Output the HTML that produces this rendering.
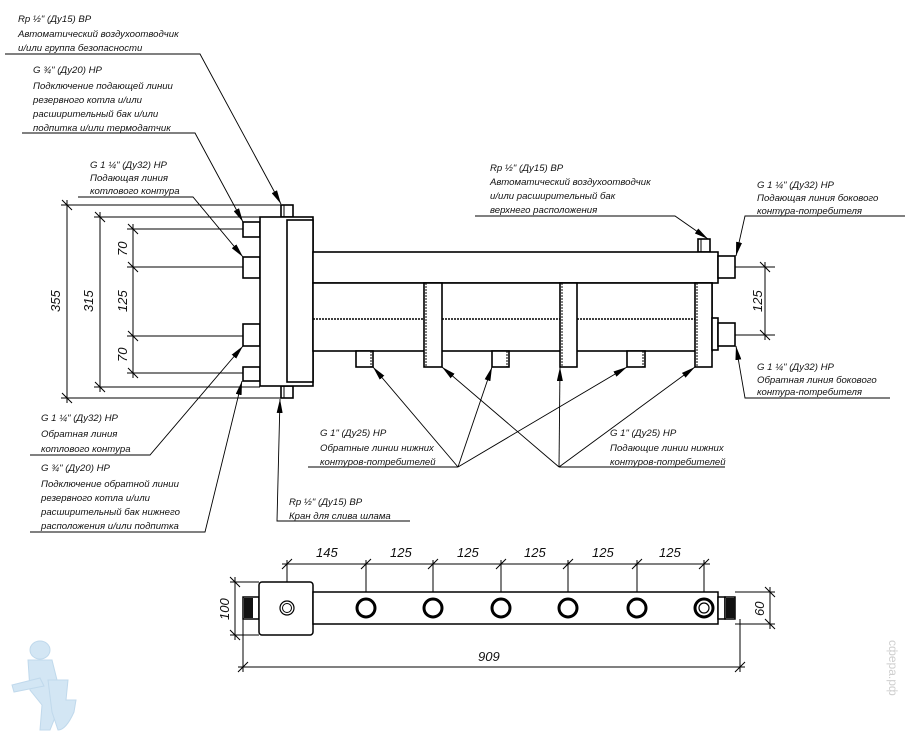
<!DOCTYPE html>
<html><head><meta charset="utf-8"><style>
html,body{margin:0;padding:0;background:#fff;}
svg{display:block;}
text{font-family:"Liberation Sans",sans-serif;font-style:italic;font-size:9.6px;fill:#111;}
.d{font-size:13px;}
</style></head><body>
<svg width="905" height="745" viewBox="0 0 905 745" xmlns="http://www.w3.org/2000/svg">
<defs>
<marker id="a" viewBox="0 0 14 6" refX="14" refY="3" markerWidth="14" markerHeight="6" markerUnits="userSpaceOnUse" orient="auto"><path d="M0,0 L14,3 L0,6 Z" fill="#000"/></marker>
</defs>
<g fill="none" stroke="#000" stroke-width="1">
<path d="M61,205 H281 M61,398 H281 M94,217 H260 M94,387 H260 M127,229 H243 M127,267 H243 M127,336 H243 M127,373 H243"/>
<path d="M67,200 V403 M100,212 V392 M133,224 V378"/>
<path d="M62,200 l10,10 M62,393 l10,10 M95,212 l10,10 M95,382 l10,10 M128,224 l10,10 M128,262 l10,10 M128,331 l10,10 M128,368 l10,10"/>
</g>
<g fill="#fff" stroke="#000" stroke-width="1.6">
<rect x="281" y="205" width="12" height="12"/><rect x="281" y="386" width="12" height="12"/>
<rect x="243" y="222" width="17" height="15"/><rect x="243" y="257" width="17" height="21"/>
<rect x="243" y="324" width="17" height="22"/><rect x="243" y="367" width="17" height="14"/>
<rect x="260" y="217" width="53" height="169"/>
<rect x="287" y="220" width="26" height="162"/>
<rect x="698" y="239" width="12" height="13"/>
<rect x="313" y="252" width="405" height="31"/>
<rect x="313" y="283" width="399" height="68"/>
<rect x="424" y="283" width="18" height="84"/><rect x="560" y="283" width="17" height="84"/><rect x="695" y="283" width="17" height="84"/>
<rect x="356" y="351" width="17" height="16"/><rect x="492" y="351" width="17" height="16"/><rect x="627" y="351" width="18" height="16"/>
<rect x="718" y="256" width="17" height="22"/>
<rect x="712" y="318" width="6" height="32"/><rect x="718" y="323" width="17" height="23"/>
</g>
<g stroke="#000" stroke-width="1" fill="none">
<path d="M284,205 V217 M284,386 V398 M701,239 V252"/>
<path d="M313,319 H424 M442,319 H560 M577,319 H695" stroke-dasharray="2,1" stroke-width="1.5"/>
<path d="M426,283 V367 M562,283 V367 M697,283 V367 M371,351 V367 M507,351 V367 M643,351 V367" stroke-dasharray="2,1"/>
<path d="M735,267 H775 M735,335 H775 M765,262 V340 M760,262 l10,10 M760,330 l10,10"/>
</g>
<g stroke="#000" stroke-width="0.9" fill="none" marker-end="url(#a)">
<path d="M5,54 H200 L281,204"/>
<path d="M22,133 H195 L243,222"/>
<path d="M78,197 H193 L243,257"/>
<path d="M30,455 H150 L243,346"/>
<path d="M30,532 H205 L242,381"/>
<path d="M410,521 H277 L280,399"/>
<path d="M475,216 H675 L708,239"/>
<path d="M905,216 H745 L736,256"/>
<path d="M890,398 H745 L736,346"/>
</g>
<g stroke="#000" stroke-width="0.9" fill="none">
<path d="M308,467 H458 M559,467 H725"/>
</g>
<g stroke="#000" stroke-width="0.9" fill="none" marker-end="url(#a)">
<path d="M458,467 L373,367"/><path d="M458,467 L492,367"/><path d="M458,467 L627,367"/>
<path d="M559,467 L442,367"/><path d="M559,467 L560,367"/><path d="M559,467 L695,367"/>
</g>
<text class="d" transform="translate(60,312) rotate(-90)">355</text>
<text class="d" transform="translate(93,312) rotate(-90)">315</text>
<text class="d" transform="translate(127,256) rotate(-90)">70</text>
<text class="d" transform="translate(127,312) rotate(-90)">125</text>
<text class="d" transform="translate(127,362) rotate(-90)">70</text>
<text class="d" transform="translate(762,312) rotate(-90)">125</text>
<text x="18" y="22">Rp ½" (Ду15) ВР</text>
<text x="18" y="37">Автоматический воздухоотводчик</text>
<text x="18" y="51">и/или группа безопасности</text>
<text x="33" y="73">G ¾" (Ду20) НР</text>
<text x="33" y="89">Подключение подающей линии</text>
<text x="33" y="103">резервного котла и/или</text>
<text x="33" y="117">расширительный бак и/или</text>
<text x="33" y="131">подпитка и/или термодатчик</text>
<text x="90" y="168">G 1 ¼" (Ду32) НР</text>
<text x="90" y="181">Подающая линия</text>
<text x="90" y="194">котлового контура</text>
<text x="490" y="171">Rp ½" (Ду15) ВР</text>
<text x="490" y="185">Автоматический воздухоотводчик</text>
<text x="490" y="199">и/или расширительный бак</text>
<text x="490" y="213">верхнего расположения</text>
<text x="757" y="188">G 1 ¼" (Ду32) НР</text>
<text x="757" y="201">Подающая линия бокового</text>
<text x="757" y="214">контура-потребителя</text>
<text x="757" y="370">G 1 ¼" (Ду32) НР</text>
<text x="757" y="383">Обратная линия бокового</text>
<text x="757" y="395">контура-потребителя</text>
<text x="41" y="421">G 1 ¼" (Ду32) НР</text>
<text x="41" y="437">Обратная линия</text>
<text x="41" y="452">котлового контура</text>
<text x="41" y="471">G ¾" (Ду20) НР</text>
<text x="41" y="487">Подключение обратной линии</text>
<text x="41" y="501">резервного котла и/или</text>
<text x="41" y="515">расширительный бак нижнего</text>
<text x="41" y="529">расположения и/или подпитка</text>
<text x="289" y="505">Rp ½" (Ду15) ВР</text>
<text x="289" y="519">Кран для слива шлама</text>
<text x="320" y="436">G 1" (Ду25) НР</text>
<text x="320" y="451">Обратные линии нижних</text>
<text x="320" y="465">контуров-потребителей</text>
<text x="610" y="436">G 1" (Ду25) НР</text>
<text x="610" y="451">Подающие линии нижних</text>
<text x="610" y="465">контуров-потребителей</text>
<g fill="none" stroke="#000" stroke-width="1">
<path d="M282,564 H710 M287,560 V608 M366,560 V608 M433,560 V608 M501,560 V608 M568,560 V608 M637,560 V608 M704,560 V608"/>
<path d="M282,569 l10,-10 M361,569 l10,-10 M428,569 l10,-10 M496,569 l10,-10 M563,569 l10,-10 M632,569 l10,-10 M699,569 l10,-10"/>
<path d="M230,582 H259 M230,635 H259 M235,577 V640 M230,577 l10,10 M230,630 l10,10"/>
<path d="M735,592 H775 M735,624 H775 M770,587 V629 M765,587 l10,10 M765,619 l10,10"/>
<path d="M243,619 V672 M740,619 V672 M238,667 H745 M238,672 l10,-10 M735,672 l10,-10"/>
</g>
<g fill="#fff" stroke="#000" stroke-width="1.5">
<rect x="243" y="597" width="16" height="22"/>
<rect x="259" y="582" width="54" height="53" rx="3"/>
<rect x="313" y="592" width="405" height="32"/>
<rect x="718" y="597" width="7" height="22"/>
<rect x="725" y="597" width="10" height="22"/>
</g>
<rect x="244" y="598" width="9" height="20" fill="#111"/>
<rect x="726" y="598" width="9" height="20" fill="#111"/>
<g fill="none" stroke="#000">
<circle cx="287" cy="608" r="7" stroke-width="1.2"/><circle cx="287" cy="608" r="4.5" stroke-width="1"/>
<g stroke-width="3"><circle cx="366" cy="608" r="9"/><circle cx="433" cy="608" r="9"/><circle cx="501" cy="608" r="9"/><circle cx="568" cy="608" r="9"/><circle cx="637" cy="608" r="9"/><circle cx="704" cy="608" r="9"/></g>
<circle cx="704" cy="608" r="5" stroke-width="1.2"/>
</g>
<text class="d" x="316" y="557">145</text>
<text class="d" x="390" y="557">125</text>
<text class="d" x="457" y="557">125</text>
<text class="d" x="524" y="557">125</text>
<text class="d" x="592" y="557">125</text>
<text class="d" x="659" y="557">125</text>
<text class="d" x="478" y="661">909</text>
<text class="d" transform="translate(229,620) rotate(-90)">100</text>
<text class="d" transform="translate(764,616) rotate(-90)">60</text>
<g fill="#d3e6f4" stroke="#c0d9ec" stroke-width="1">
<ellipse cx="40" cy="650" rx="10" ry="9"/>
<path d="M28,660 L52,660 L62,700 L50,730 L40,730 L42,705 L30,690 Z"/>
<path d="M12,685 L40,678 L44,686 L14,692 Z"/>
<path d="M48,680 H68 L66,700 H76 L74,712 Q66,730 58,730 L52,712 Z"/>
</g>
<text x="0" y="0" transform="translate(889,640) rotate(90)" style="fill:#cfcfcf;font-size:12px;font-style:normal;">сфера.рф</text>
</svg>
</body></html>
